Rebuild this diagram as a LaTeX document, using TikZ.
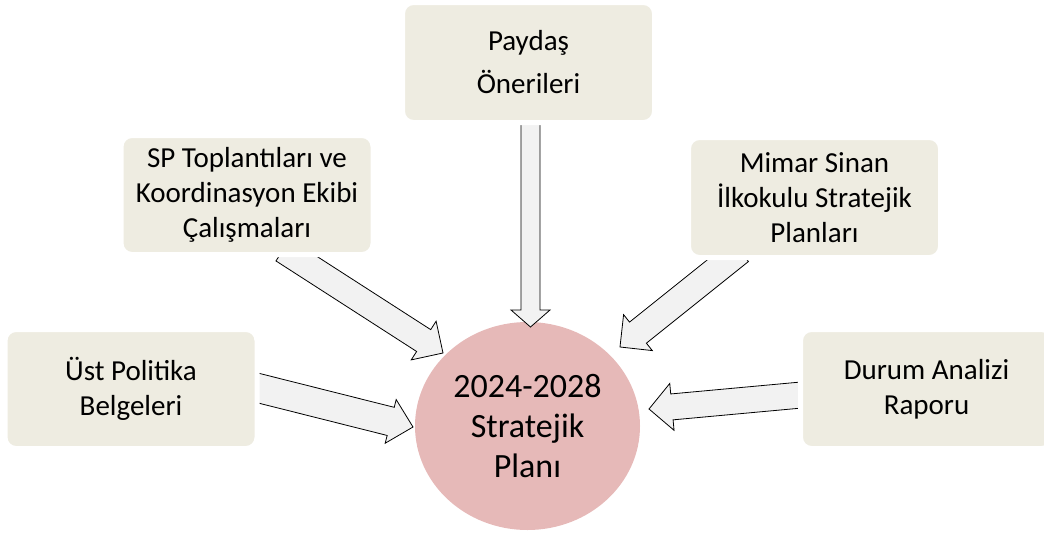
\documentclass[tikz,border=0pt]{standalone}
\usepackage{fontspec}
\setmainfont{Carlito}
\usetikzlibrary{calc,shapes.geometric}
\definecolor{boxfill}{HTML}{EEECE1}
\definecolor{planfill}{HTML}{E6B9B8}
\definecolor{arrfill}{HTML}{F2F2F2}
\tikzset{
  srcbox/.style={draw=white, line width=5pt, fill=boxfill, rounded corners=11pt, align=center,
    minimum width=252pt, minimum height=120pt, inner sep=0pt,
    font=\fontsize{29}{35}\selectfont},
  planshape/.style={ellipse, draw=none, fill=planfill, minimum width=225pt,
    minimum height=208pt, inner sep=0pt, align=center,
    font=\fontsize{34}{40}\selectfont},
  arr/.style={draw=black, line width=0.8pt, fill=arrfill, line join=miter}
}
\newcommand\blockarrow[5]{%
  \coordinate (ba-h) at ($(#2)!#5!(#1)$);
  \draw[arr] ($(#1)!#3!90:(#2)$) -- ($(ba-h)!#3!90:(#2)$) -- ($(ba-h)!#4!90:(#2)$)
    -- (#2) -- ($(ba-h)!#4!-90:(#2)$) -- ($(ba-h)!#3!-90:(#2)$)
    -- ($(#1)!#3!-90:(#2)$) -- cycle;}
\begin{document}
\begin{tikzpicture}[x=1pt,y=-1pt]
\useasboundingbox (0,0) rectangle (1044,533);
\clip (0,0) rectangle (1044,533);
% centre
\node[planshape] (plan) at (527.5,426) {2024-2028\\Stratejik\\Planı};
% arrow end points
\coordinate (pay-out) at (530.5,115);
\coordinate (pay-in)  at (530.5,327);
\coordinate (sp-out)  at (283,250);
\coordinate (sp-in)   at (443,353);
\coordinate (mim-out) at (740,251);
\coordinate (mim-in)  at (620,347);
\coordinate (ust-out) at (250,386);
\coordinate (ust-in)  at (413,427);
\coordinate (dur-out) at (808,394.4);
\coordinate (dur-in)  at (649,409);
% arrows
\blockarrow{pay-out}{pay-in}{9.5pt}{19.5pt}{17pt}
\blockarrow{sp-out}{sp-in}{13pt}{23pt}{23pt}
\blockarrow{mim-out}{mim-in}{13.5pt}{23pt}{23pt}
\blockarrow{ust-out}{ust-in}{14.5pt}{22.5pt}{23pt}
\blockarrow{dur-out}{dur-in}{13pt}{23.5pt}{23pt}
% source boxes
\node[srcbox, font=\fontsize{29}{43}\selectfont] (pay) at (528.5,62.5) {Paydaş\\Önerileri};
\node[srcbox, minimum height=119pt] (sp) at (247,195) {SP Toplantıları ve\\Koordinasyon Ekibi\\Çalışmaları};
\node[srcbox] (mim) at (814.5,197.5) {Mimar Sinan\\İlkokulu Stratejik\\Planları};
\node[srcbox, minimum height=119pt] (ust) at (131,389) {Üst Politika\\Belgeleri};
\node[srcbox, minimum height=119pt] (dur) at (926.5,389) {Durum Analizi\\Raporu};
\end{tikzpicture}
\end{document}
